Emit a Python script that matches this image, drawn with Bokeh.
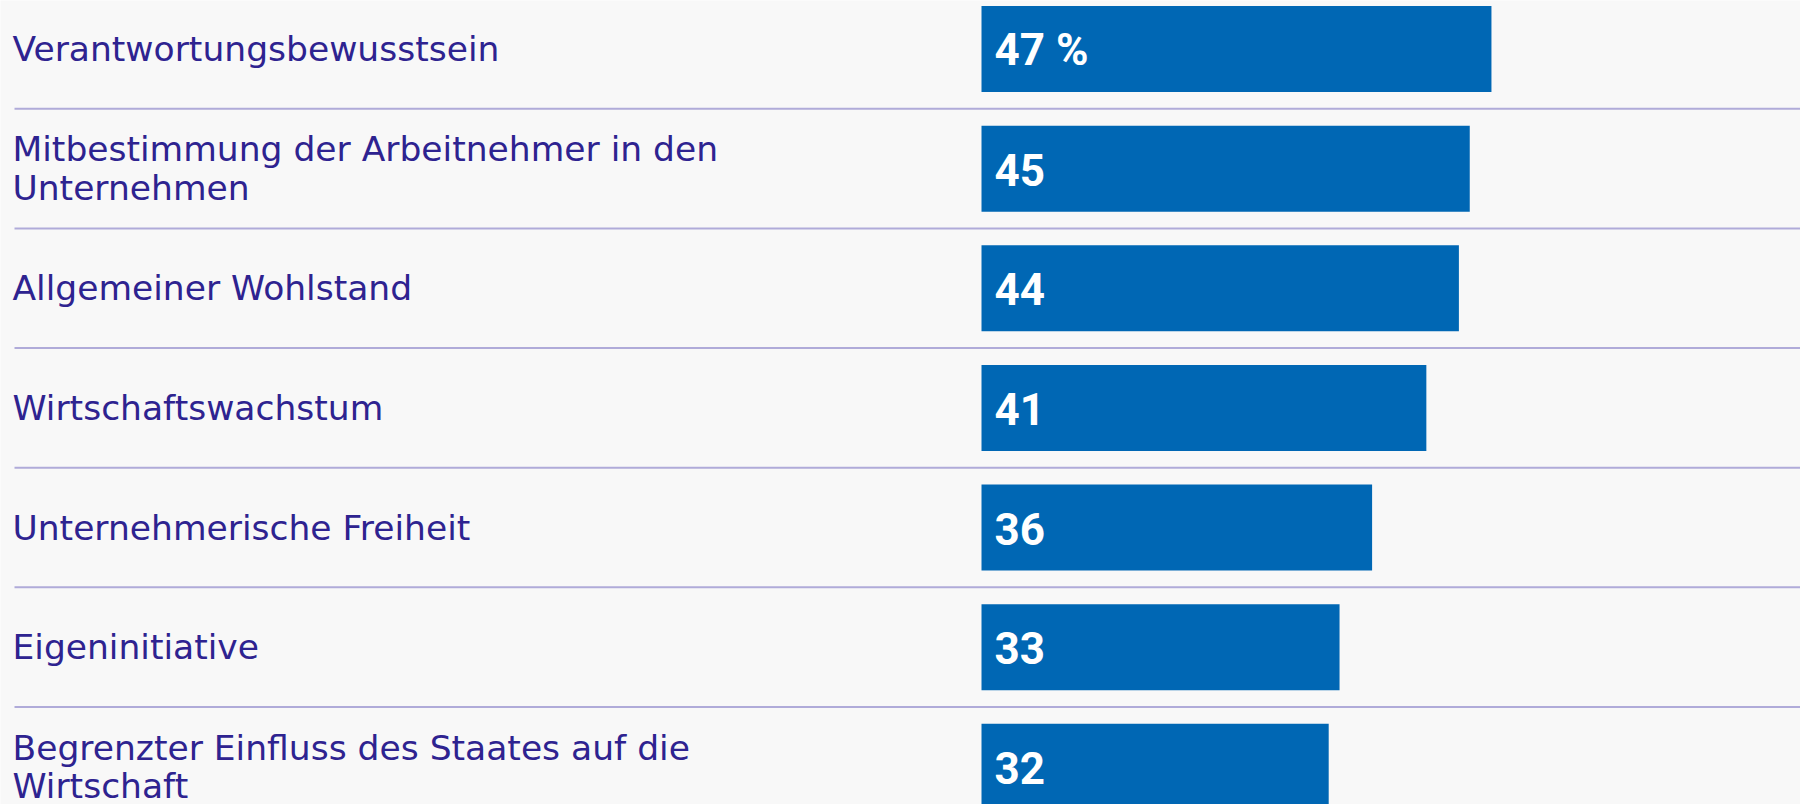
from bokeh.plotting import figure
from bokeh.models import Range1d, ColumnDataSource
from bokeh.embed import file_html
from bokeh.resources import INLINE
from bokeh.core.properties import value

categories = [
    "Verantwortungsbewusstsein",
    "Mitbestimmung der Arbeitnehmer in den\nUnternehmen",
    "Allgemeiner Wohlstand",
    "Wirtschaftswachstum",
    "Unternehmerische Freiheit",
    "Eigeninitiative",
    "Begrenzter Einfluss des Staates auf die\nWirtschaft",
]
values = [47, 45, 44, 41, 36, 33, 32]
value_labels = ["47 %", "45", "44", "41", "36", "33", "32"]

W, H = 1800, 804
BG = "#f8f8f8"
BAR = "#0067b4"
TXT = "#2e2390"
LINE = "#b0abd9"

PX_PER_UNIT = 10.85
BAR_LEFT_PX = 981.0
ROW0_PX = 48.5
PITCH = 119.63

x_start = -BAR_LEFT_PX / PX_PER_UNIT
x_end = (W - BAR_LEFT_PX) / PX_PER_UNIT
y_start = (H - ROW0_PX) / PITCH
y_end = -ROW0_PX / PITCH

p = figure(width=W, height=H, output_backend="svg", toolbar_location=None,
           x_range=Range1d(x_start, x_end), y_range=Range1d(y_start, y_end),
           min_border=0, outline_line_color=None,
           background_fill_color=BG, border_fill_color=BG)
p.axis.visible = False
p.grid.visible = False

n = len(categories)
rows = list(range(n))
src = ColumnDataSource(dict(y=rows, v=values, lab=value_labels, cat=categories,
                            x0=[0] * n))

# separators between rows
sep_y = [i + 0.5 for i in range(n - 1)]
p.segment(x0=[x_start + 14 / PX_PER_UNIT] * len(sep_y), x1=[x_end + 5] * len(sep_y),
          y0=sep_y, y1=sep_y, line_color=LINE, line_width=2)

p.hbar(y="y", left="x0", right="v", height=86 / PITCH, source=src,
       fill_color=BAR, line_color=None)

p.text(x="x0", y="y", text="lab", source=src, x_offset=13, y_offset=1,
       text_color="white", text_font=value("Roboto"),
       text_font_style="bold", text_font_size="44px", text_baseline="middle",
       text_align="left")

p.text(x=[x_start] * n, y=rows, text=categories, x_offset=12, y_offset=0,
       text_color=TXT, text_font=value("DejaVu Sans"), text_font_size="34.5px",
       text_baseline="middle", text_align="left", text_line_height=0.96)

html = file_html(p, INLINE)
open("out.html", "w").write(html)
